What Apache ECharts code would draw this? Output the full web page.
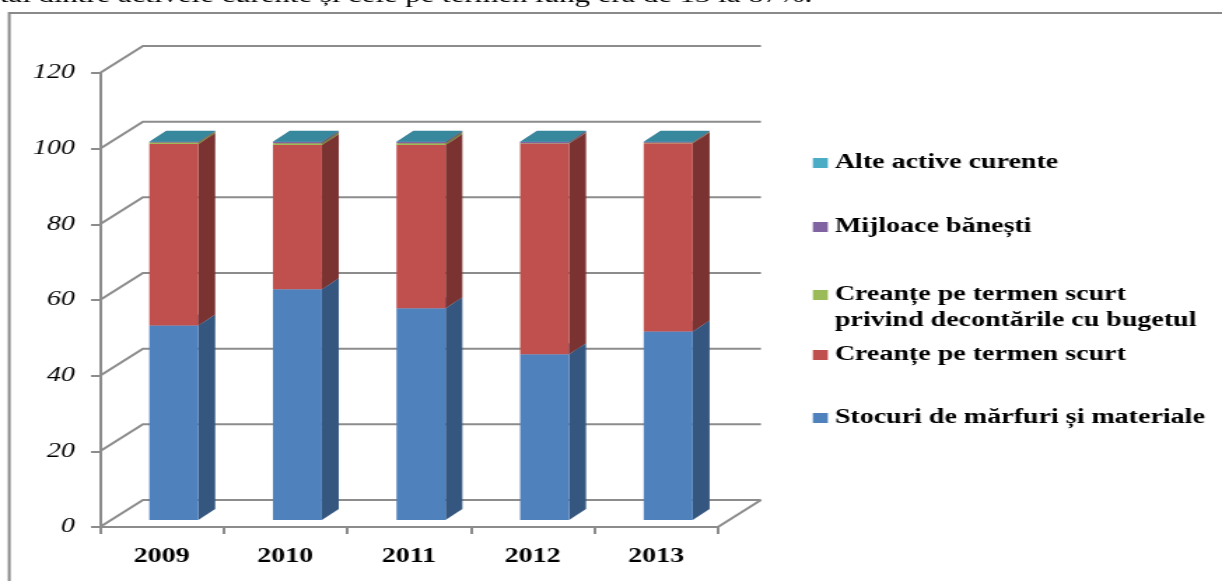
<!DOCTYPE html>
<html>
<head>
<meta charset="utf-8">
<script src="https://cdn.jsdelivr.net/npm/echarts@6/dist/echarts.min.js"></script>
<style>
  html, body { margin: 0; padding: 0; background: #fff; overflow: hidden; }
  /* the chart is laid out narrow and widened horizontally */
  #chart { width: 873px; height: 581px; transform: scaleX(1.39977); transform-origin: 0 0; }
</style>
</head>
<body>
<div id="chart"></div>
<script>
// ---- data ----
const categories = ['2009', '2010', '2011', '2012', '2013'];
const yTicks = [0, 20, 40, 60, 80, 100, 120];

const stocuri        = [51.4, 61.0, 56.0, 43.8, 49.8]; // Stocuri de mărfuri și materiale
const creante        = [48.0, 38.1, 43.1, 55.7, 49.8]; // Creanțe pe termen scurt
const creanteBuget   = [0.4, 0.5, 0.5, 0.1, 0.1];      // Creanțe ... decontările cu bugetul
const mijloace       = [0.1, 0.3, 0.3, 0.3, 0.2];      // Mijloace bănești
const alteActive     = [0.1, 0.1, 0.1, 0.1, 0.1];      // Alte active curente

const seriesNames = [
  'Stocuri de mărfuri și materiale',
  'Creanțe pe termen scurt',
  'Creanțe pe termen scurt privind decontările cu bugetul',
  'Mijloace bănești',
  'Alte active curente'
];
const seriesValues = [stocuri, creante, creanteBuget, mijloace, alteActive];

// ---- style ----
const FONT = '"Liberation Serif", "Times New Roman", serif';
const GRID_COLOR = '#8c8c8c';
const palette = [
  { front: '#4F81BD', side: '#35577f', top: '#5a8bc4' },
  { front: '#C0504D', side: '#7b3331', top: '#c65e5b' },
  { front: '#9BBB59', side: '#6b8538', top: '#a6c46a' },
  { front: '#8064A2', side: '#5a4676', top: '#8c72ab' },
  { front: '#4BACC6', side: '#2f7e93', top: '#37889c' }
];
// oblique depth of the chart box and of each bar
const DEPTH_X = 30.7, DEPTH_Y = -27;
const BAR_FRAC = 0.396, BAR_OX = 8.6, BAR_OY = -7;
const BAR_DX = 12.1, BAR_DY = -11;

const chart = echarts.init(document.getElementById('chart'), null, { renderer: 'canvas' });

function makeBarRenderer(col) {
  return function (params, api) {
    const c = api.value(0), lo = api.value(1), hi = api.value(2);
    const a = api.coord([c, lo]);
    const b = api.coord([c, hi]);
    const w = api.size([1, 0])[0] * BAR_FRAC;
    const xl = a[0] - w / 2 + BAR_OX, xr = xl + w;
    const y0 = a[1] + BAR_OY, y1 = b[1] + BAR_OY;
    return {
      type: 'group',
      children: [
        { type: 'polygon', shape: { points: [[xr, y0], [xr + BAR_DX, y0 + BAR_DY], [xr + BAR_DX, y1 + BAR_DY], [xr, y1]] },
          style: { fill: col.side } },
        { type: 'polygon', shape: { points: [[xl, y1], [xr, y1], [xr + BAR_DX, y1 + BAR_DY], [xl + BAR_DX, y1 + BAR_DY]] },
          style: { fill: col.top } },
        { type: 'rect', shape: { x: xl, y: y1, width: w, height: y0 - y1 },
          style: { fill: col.front } }
      ]
    };
  };
}

// stacked segments [category, bottom, top]
const cumulative = categories.map(() => 0);
const barSeries = seriesValues.map((vals, si) => {
  const data = vals.map((v, i) => {
    const lo = cumulative[i];
    cumulative[i] = lo + v;
    return [i, lo, lo + v];
  });
  return {
    type: 'custom',
    name: seriesNames[si],
    renderItem: makeBarRenderer(palette[si]),
    encode: { x: 0, y: [1, 2] },
    itemStyle: { color: palette[si].front },
    clip: false,
    z: 3,
    data: data
  };
});

// back wall gridlines and floor outline
const wallSeries = {
  type: 'custom',
  name: 'wall',
  silent: true,
  clip: false,
  z: 1,
  encode: { x: 0, y: 1 },
  data: yTicks.map(v => [0, v]),
  renderItem: function (params, api) {
    const cs = params.coordSys;
    const y = api.coord([0, api.value(1)])[1];
    const gx = cs.x, gr = cs.x + cs.width;
    const children = [{
      type: 'polyline',
      shape: { points: [[gx, y], [gx + DEPTH_X, y + DEPTH_Y], [gr + DEPTH_X, y + DEPTH_Y]] },
      style: { stroke: GRID_COLOR, lineWidth: 2, fill: null }
    }];
    if (api.value(1) === 0) {
      children.push({
        type: 'line',
        shape: { x1: gr, y1: y, x2: gr + DEPTH_X, y2: y + DEPTH_Y },
        style: { stroke: GRID_COLOR, lineWidth: 2 }
      });
    }
    return { type: 'group', children: children };
  }
};

const legendText = { fontFamily: FONT, fontWeight: 'bold', fontSize: 20, color: '#000' };
function legendItem(name, top, extra) {
  return Object.assign({
    data: [name],
    left: 580.7,
    top: top,
    padding: 0,
    orient: 'vertical',
    icon: 'rect',
    itemWidth: 10.7,
    itemHeight: 10,
    selectedMode: false,
    textStyle: Object.assign({}, legendText)
  }, extra || {});
}

const option = {
  animation: false,
  backgroundColor: '#fff',
  grid: { left: 71.4, right: 360.1, top: 73, bottom: 54, containLabel: false },
  xAxis: {
    type: 'category',
    data: categories,
    axisLine: { show: true, lineStyle: { color: GRID_COLOR, width: 2 } },
    axisTick: { show: true, length: 7, lineStyle: { color: GRID_COLOR, width: 2 } },
    axisLabel: { fontFamily: FONT, fontWeight: 'bold', fontSize: 20, color: '#000', margin: 20 },
    splitLine: { show: false }
  },
  yAxis: {
    type: 'value',
    min: 0, max: 120, interval: 20,
    axisLine: { show: true, lineStyle: { color: GRID_COLOR, width: 2 } },
    axisTick: { show: true, length: 6.4, lineStyle: { color: GRID_COLOR, width: 2 } },
    axisLabel: { fontFamily: FONT, fontStyle: 'italic', fontSize: 20, color: '#000', margin: 18 },
    splitLine: { show: false }
  },
  legend: [
    legendItem(seriesNames[4], 153),
    legendItem(seriesNames[3], 217),
    // two-line entry: a blank first line keeps the marker beside the first text line
    legendItem(seriesNames[2], 256, {
      formatter: () => ' \nCreanțe pe termen scurt\nprivind decontările cu bugetul',
      textStyle: Object.assign({}, legendText, { lineHeight: 26 })
    }),
    legendItem(seriesNames[1], 345),
    legendItem(seriesNames[0], 408)
  ],
  graphic: [
    { type: 'rect', silent: true, z: -1,
      shape: { x: 6.6, y: 13, width: 1000, height: 700 },
      style: { fill: null, stroke: '#8a8a8a', lineWidth: 2 } },
    { type: 'text', silent: true, x: 0, y: -15,
      style: { text: 'tal dintre activele curente și cele pe termen lung era de 13 la 87%.',
               font: '22px "Liberation Serif"', fill: '#000', verticalAlign: 'top' } }
  ],
  series: [wallSeries].concat(barSeries)
};

chart.setOption(option);
</script>
</body>
</html>
